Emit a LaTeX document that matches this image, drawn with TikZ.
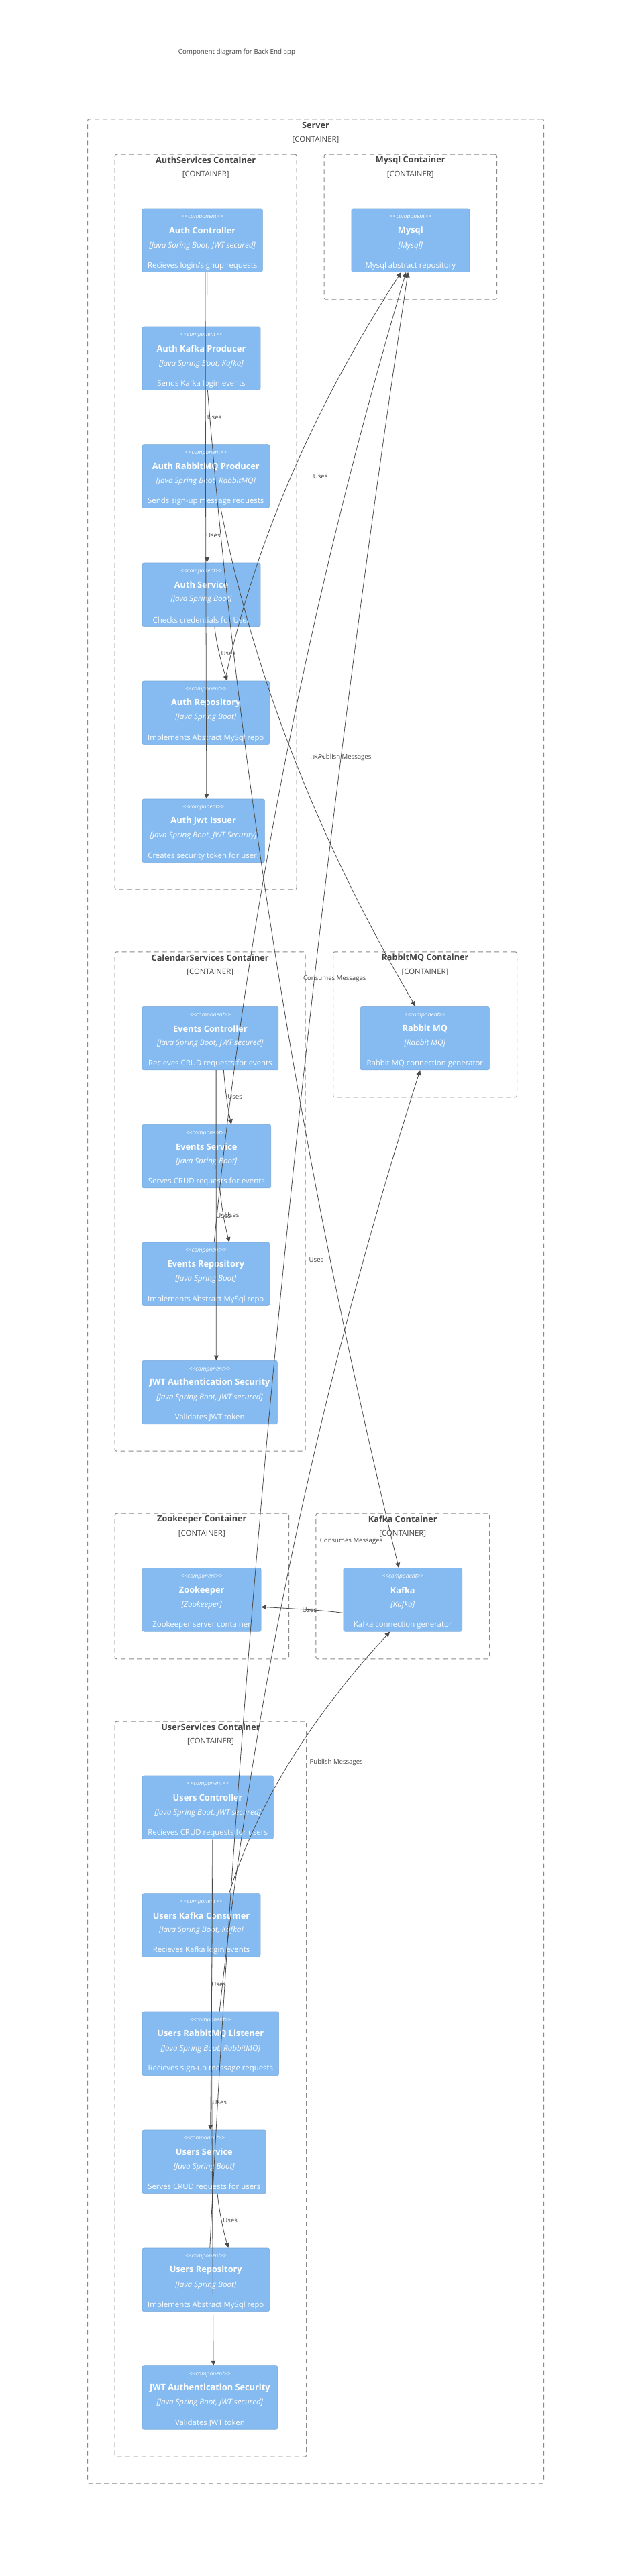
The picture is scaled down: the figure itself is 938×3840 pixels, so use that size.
\documentclass[tikz,border=0pt]{standalone}
\usepackage{fontspec}
\setmainfont{Open Sans}
\usetikzlibrary{calc,arrows.meta}
\definecolor{compfill}{HTML}{85BBF0}
\definecolor{compline}{HTML}{78A8D8}
\definecolor{bndline}{HTML}{8A8A8A}
\definecolor{txtdark}{HTML}{444444}
\definecolor{relcol}{HTML}{4A4A4A}
\tikzset{
  compbox/.style={draw=compline, line width=0.6pt, fill=compfill, rounded corners=2.5pt, minimum height=94.6pt, inner sep=0pt},
  bndbox/.style={draw=bndline, line width=1pt, dash pattern=on 7pt off 5pt, rounded corners=2.5pt, inner sep=0pt},
  stereo/.style={text=white, font=\fontsize{8.5}{10}\selectfont\itshape, inner sep=0pt},
  ctitle/.style={text=white, font=\fontsize{12.8}{15}\selectfont\bfseries, inner sep=0pt},
  ctech/.style={text=white, font=\fontsize{11.6}{14}\selectfont\itshape, inner sep=0pt},
  cdesc/.style={text=white, font=\fontsize{11.4}{14}\selectfont, inner sep=0pt},
  btitle/.style={text=txtdark, font=\fontsize{12.7}{15}\selectfont\bfseries, inner sep=0pt},
  btype/.style={text=txtdark, font=\fontsize{11.4}{14}\selectfont, inner sep=0pt},
  relline/.style={draw=relcol, line width=0.8pt, -{Triangle[length=7.5pt,width=7pt]}},
  rellabel/.style={text=txtdark, font=\fontsize{9.6}{11}\selectfont, inner sep=0pt, anchor=west},
}
% component: name, left, top, width, title, tech, description
\newcommand\comp[7]{%
  \node[compbox, anchor=north west, minimum width=#4pt] (#1) at (#2,#3) {};
  \node[stereo] (#1-st) at ($(#1.north)+(0,13.3)$) {<\kern0pt<component>\kern0pt>};
  \node[ctitle] (#1-ti) at ($(#1.north)+(0,33.4)$) {#5};
  \node[ctech] (#1-te) at ($(#1.north)+(0,55.4)$) {#6};
  \node[cdesc] (#1-de) at ($(#1.north)+(0,85.4)$) {#7};
}
% boundary: name, left, top, width, height, title
\newcommand\bound[6]{%
  \node[bndbox, anchor=north west, minimum width=#4pt, minimum height=#5pt] (#1) at (#2,#3) {};
  \node[btitle] (#1-ti) at ($(#1.north)+(0,9.3)$) {#6};
  \node[btype] (#1-ty) at ($(#1.north)+(0,30.6)$) {[CONTAINER]};
}
% relation: label name, start coord, end coord, text
\newcommand\rel[4]{%
  \draw[relline] let \p1=(#2), \p2=(#3) in (\p1) .. controls ({\x1+(\x2-\x1)/6},{\y1+(\y2-\y1)/3}) and ({(\x1+\x2)/2},{\y2-(\y2-\y1)/3}) .. (\p2);
  \node[rellabel] (#1) at ($(#2)!0.5!(#3)$) {#4};
}
\begin{document}
\begin{tikzpicture}[x=1pt,y=-1pt]
\fill[white] (0,0) rectangle (938,3840);
\useasboundingbox (0,0) rectangle (938,3840);

\node[text=txtdark, font=\fontsize{9.8}{12}\selectfont, inner sep=0pt] (title) at (353,77.7) {Component diagram for Back End app};

% boundaries
\bound{server}{130}{177.3}{680}{3524.4}{Server}
\bound{authB}{170.7}{229.7}{271}{1095.6}{AuthServices Container}
\bound{mysqlB}{482.5}{229.7}{257.5}{216}{Mysql Container}
\bound{calB}{170.7}{1418.3}{284}{744.4}{CalendarServices Container}
\bound{rabbitB}{496}{1418.3}{274}{217}{RabbitMQ Container}
\bound{zkB}{170.7}{2255.7}{259.3}{216.6}{Zookeeper Container}
\bound{kafkaB}{470.4}{2255.7}{258.8}{216.6}{Kafka Container}
\bound{userB}{170.7}{2565.7}{285.5}{1096}{UserServices Container}

% components
\comp{actrl}{211.7}{310.7}{179.3}{Auth Controller}{[Java Spring Boot, JWT secured]}{Recieves login/signup requests}
\comp{mysql}{523.6}{310.7}{175.9}{Mysql}{[Mysql]}{Mysql abstract repository}
\comp{akp}{211.7}{486.7}{176}{Auth Kafka Producer}{[Java Spring Boot, Kafka]}{Sends Kafka login events}
\comp{arp}{211.7}{662.3}{189.6}{Auth RabbitMQ Producer}{[Java Spring Boot, RabbitMQ]}{Sends sign-up message requests}
\comp{asvc}{211.7}{838.7}{176}{Auth Service}{[Java Spring Boot]}{Checks credentials for User}
\comp{arepo}{211.7}{1014.7}{189.6}{Auth Repository}{[Java Spring Boot]}{Implements Abstract MySql repo}
\comp{ajwt}{211.7}{1190.7}{182.3}{Auth Jwt Issuer}{[Java Spring Boot, JWT Security]}{Creates security token for user.}
\comp{ectrl}{211.7}{1500}{202.8}{Events Controller}{[Java Spring Boot, JWT secured]}{Recieves CRUD requests for events}
\comp{rabbit}{537}{1500}{192}{Rabbit MQ}{[Rabbit MQ]}{Rabbit MQ connection generator}
\comp{esvc}{211.7}{1676}{191.7}{Events Service}{[Java Spring Boot]}{Serves CRUD requests for events}
\comp{erepo}{211.7}{1851.7}{189.6}{Events Repository}{[Java Spring Boot]}{Implements Abstract MySql repo}
\comp{ejwt}{211.7}{2028}{201.3}{JWT Authentication Security}{[Java Spring Boot, JWT secured]}{Validates JWT token}
\comp{zk}{212}{2337.3}{176.8}{Zookeeper}{[Zookeeper]}{Zookeeper server container}
\comp{kafka}{511.5}{2337.3}{177}{Kafka}{[Kafka]}{Kafka connection generator}
\comp{uctrl}{211.7}{2646.7}{195.3}{Users Controller}{[Java Spring Boot, JWT secured]}{Recieves CRUD requests for users}
\comp{ukc}{211.7}{2822.3}{176}{Users Kafka Consumer}{[Java Spring Boot, Kafka]}{Recieves Kafka login events}
\comp{url}{211.7}{2998.7}{203.6}{Users RabbitMQ Listener}{[Java Spring Boot, RabbitMQ]}{Recieves sign-up message requests}
\comp{usvc}{211.7}{3174.7}{184.6}{Users Service}{[Java Spring Boot]}{Serves CRUD requests for users}
\comp{urepo}{211.7}{3350.7}{189.6}{Users Repository}{[Java Spring Boot]}{Implements Abstract MySql repo}
\comp{ujwt}{211.7}{3526.3}{201.8}{JWT Authentication Security}{[Java Spring Boot, JWT secured]}{Validates JWT token}

% connector end points
\coordinate (e1s) at ($(actrl.south west)+(96.9,0)$);
\coordinate (e1e) at ($(asvc.north west)+(96.8,0)$);
\coordinate (e2s) at ($(actrl.south west)+(94.3,0)$);
\coordinate (e2e) at ($(ajwt.north west)+(96.2,0)$);
\coordinate (e3s) at ($(asvc.south west)+(108.1,0)$);
\coordinate (e3e) at ($(arepo.north west)+(127.1,0)$);
\coordinate (e4s) at ($(arepo.north west)+(123.6,0)$);
\coordinate (e4e) at ($(mysql.south west)+(74.3,0)$);
\coordinate (e5s) at ($(akp.south west)+(97.7,0)$);
\coordinate (e5e) at ($(kafka.north west)+(82.9,0)$);
\coordinate (e6s) at ($(arp.south west)+(117.3,0)$);
\coordinate (e6e) at ($(rabbit.north west)+(82.2,0)$);
\coordinate (e7s) at ($(erepo.north west)+(107.5,0)$);
\coordinate (e7e) at ($(mysql.south west)+(81.5,0)$);
\coordinate (e8s) at ($(urepo.north west)+(101.1,0)$);
\coordinate (e8e) at ($(mysql.south west)+(84.6,0)$);
\coordinate (e9s) at ($(kafka.north west)+(0,67.1)$);
\coordinate (e9e) at ($(zk.north east)+(0,58.1)$);
\coordinate (e10s) at ($(url.north west)+(115.5,0)$);
\coordinate (e10e) at ($(rabbit.south west)+(89.2,0)$);
\coordinate (e11s) at ($(ectrl.south west)+(110.4,0)$);
\coordinate (e11e) at ($(ejwt.north west)+(110.6,0)$);
\coordinate (e12s) at ($(esvc.south west)+(116,0)$);
\coordinate (e12e) at ($(erepo.north west)+(130.1,0)$);
\coordinate (e13s) at ($(ectrl.south west)+(121.7,0)$);
\coordinate (e13e) at ($(esvc.north west)+(133.1,0)$);
\coordinate (e14s) at ($(uctrl.south west)+(105.2,0)$);
\coordinate (e14e) at ($(usvc.north west)+(101.9,0)$);
\coordinate (e15s) at ($(uctrl.south west)+(102.8,0)$);
\coordinate (e15e) at ($(ujwt.north west)+(106.4,0)$);
\coordinate (e16s) at ($(usvc.south west)+(112.4,0)$);
\coordinate (e16e) at ($(urepo.north west)+(128.7,0)$);
\coordinate (e17s) at ($(ukc.north west)+(130,0)$);
\coordinate (e17e) at ($(kafka.south west)+(69.7,0)$);

% connectors
\rel{l1}{e1s}{e1e}{Uses}
\rel{l2}{e2s}{e2e}{Uses}
\rel{l3}{e3s}{e3e}{Uses}
\rel{l4}{e4s}{e4e}{Uses}
\rel{l5}{e5s}{e5e}{Consumes Messages}
\rel{l6}{e6s}{e6e}{Publish Messages}
\rel{l7}{e7s}{e7e}{Uses}
\rel{l8}{e8s}{e8e}{Uses}
\rel{l9}{e9s}{e9e}{Uses}
\rel{l10}{e10s}{e10e}{Consumes Messages}
\rel{l11}{e11s}{e11e}{Uses}
\rel{l12}{e12s}{e12e}{Uses}
\rel{l13}{e13s}{e13e}{Uses}
\rel{l14}{e14s}{e14e}{Uses}
\rel{l15}{e15s}{e15e}{Uses}
\rel{l16}{e16s}{e16e}{Uses}
\rel{l17}{e17s}{e17e}{Publish Messages}
\end{tikzpicture}
\end{document}
